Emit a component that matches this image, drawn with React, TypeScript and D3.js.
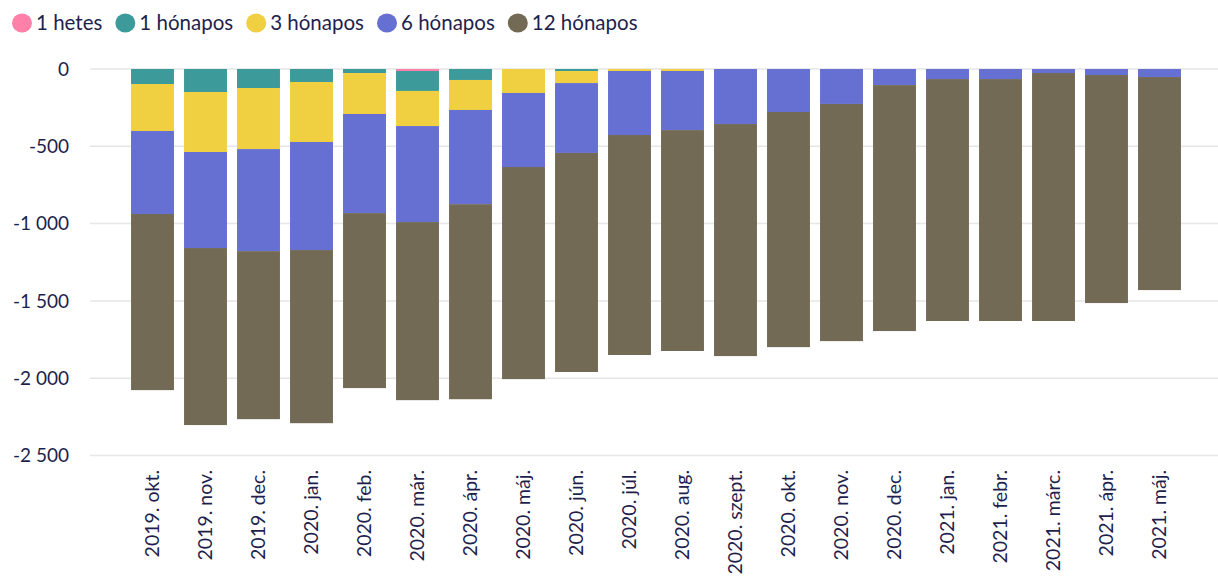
import React, { useRef, useEffect } from "react";
import * as d3 from "d3";

// months on the x axis
const months = [
  "2019. okt.", "2019. nov.", "2019. dec.", "2020. jan.", "2020. feb.",
  "2020. már.", "2020. ápr.", "2020. máj.", "2020. jún.", "2020. júl.",
  "2020. aug.", "2020. szept.", "2020. okt.", "2020. nov.", "2020. dec.",
  "2021. jan.", "2021. febr.", "2021. márc.", "2021. ápr.", "2021. máj.",
];

const seriesNames = ["1 hetes", "1 hónapos", "3 hónapos", "6 hónapos", "12 hónapos"];
const seriesColors = ["#ff80a8", "#3d9a9b", "#f0cf40", "#666fd2", "#736a56"];

// values (all negative, stacked downward)
const hetes1 = [0, 0, 0, 0, 0, -13, 0, 0, 0, 0, 0, 0, 0, 0, 0, 0, 0, 0, 0, 0];
const honap1 = [-97, -149, -123, -84, -26, -129, -71, 0, -13, 0, 0, 0, 0, 0, 0, 0, 0, 0, 0, 0];
const honap3 = [-304, -388, -395, -388, -265, -227, -194, -155, -78, -13, -13, 0, 0, 0, 0, 0, 0, 0, 0, 0];
const honap6 = [-537, -621, -660, -699, -641, -621, -609, -479, -452, -414, -382, -356, -278, -226, -104, -65, -65, -26, -39, -52];
const honap12 = [-1139, -1145, -1087, -1120, -1132, -1152, -1262, -1372, -1417, -1423, -1429, -1501, -1521, -1534, -1591, -1565, -1565, -1604, -1475, -1378];

const yTicks = [0, -500, -1000, -1500, -2000, -2500];

const App = () => {
  const ref = useRef(null);

  useEffect(() => {
    const container = d3.select(ref.current);
    container.selectAll("svg").remove();

    const width = 1218;
    const height = 577;
    const font = "Lato, 'Open Sans', sans-serif";
    const textColor = "#1f1f4e";

    const svg = container
      .append("svg")
      .attr("width", width)
      .attr("height", height)
      .style("position", "absolute")
      .style("left", 0)
      .style("top", 0)
      .style("font-family", font);

    const x = d3.scaleBand().domain(months).range([126, 1186]).paddingInner(0.19).paddingOuter(0.095);
    const y = d3.scaleLinear().domain([0, -2500]).range([69, 455.5]);

    // gridlines
    svg
      .append("g")
      .selectAll("line")
      .data(yTicks)
      .enter()
      .append("line")
      .attr("x1", 90)
      .attr("x2", width)
      .attr("y1", (d) => y(d))
      .attr("y2", (d) => y(d))
      .attr("stroke", "#e6e6e6")
      .attr("stroke-width", 1.5);

    // y labels
    svg
      .append("g")
      .selectAll("text")
      .data(yTicks)
      .enter()
      .append("text")
      .attr("x", 69)
      .attr("y", (d) => y(d))
      .attr("dy", "0.35em")
      .attr("text-anchor", "end")
      .attr("font-size", 19)
      .attr("fill", textColor)
      .text((d) => (d === 0 ? "0" : d3.format(",")(d).replace(/,/g, " ").replace("−", "-")));

    // stacked bars
    const allSeries = [hetes1, honap1, honap3, honap6, honap12];
    const rows = months.map((m, i) => {
      const row: any = { month: m };
      seriesNames.forEach((s, k) => (row[s] = allSeries[k][i]));
      return row;
    });
    const stacked = d3
      .stack()
      .keys(seriesNames)
      .offset(d3.stackOffsetDiverging)(rows);

    svg
      .append("g")
      .selectAll("g")
      .data(stacked)
      .enter()
      .append("g")
      .attr("fill", (_d, i) => seriesColors[i])
      .selectAll("rect")
      .data((d) => d)
      .enter()
      .append("rect")
      .attr("x", (d: any) => x(d.data.month))
      .attr("width", x.bandwidth())
      .attr("y", (d: any) => y(Math.max(d[0], d[1])))
      .attr("height", (d: any) => Math.abs(y(d[0]) - y(d[1])));

    // x labels
    svg
      .append("g")
      .selectAll("text")
      .data(months)
      .enter()
      .append("text")
      .attr("transform", (d) => `translate(${x(d)! + x.bandwidth() / 2},470) rotate(-90)`)
      .attr("dy", "0.35em")
      .attr("text-anchor", "end")
      .attr("font-size", 19.5)
      .attr("fill", textColor)
      .text((d) => d);

    // legend
    const legend = svg.append("g");
    let lx = 12;
    seriesNames.forEach((name, i) => {
      legend
        .append("ellipse")
        .attr("cx", lx + 10)
        .attr("cy", 23)
        .attr("rx", 10)
        .attr("ry", 9.5)
        .attr("fill", seriesColors[i]);
      const t = legend
        .append("text")
        .attr("x", lx + 24)
        .attr("y", 23)
        .attr("dy", "0.35em")
        .attr("font-size", 20.5)
        .attr("fill", textColor)
        .text(name);
      const w = (t.node() as SVGTextElement).getComputedTextLength();
      lx += 24 + w + 13;
    });
  }, []);

  return <div ref={ref} />;
};

export default App;
